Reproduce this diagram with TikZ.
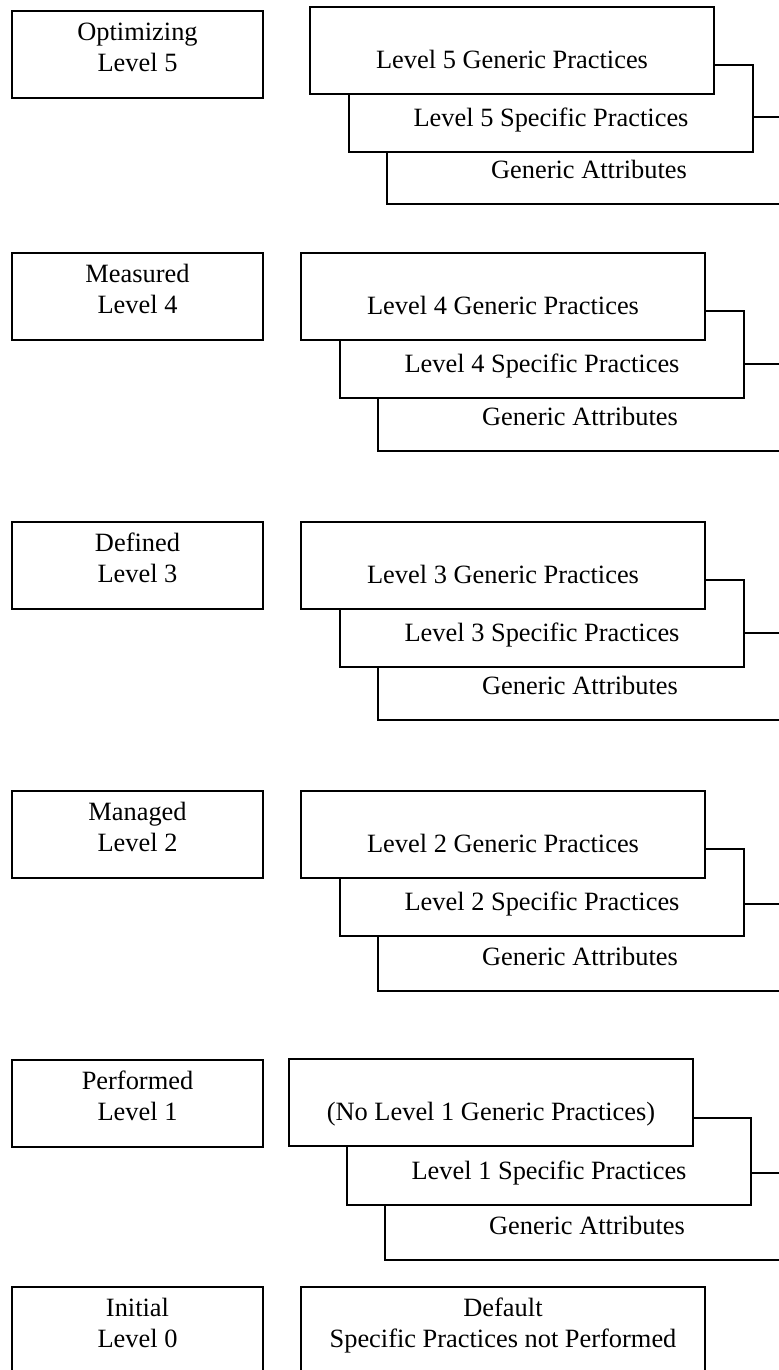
\documentclass[tikz,border=0pt]{standalone}
\usepackage{fontspec}
\setmainfont{Liberation Serif}
\usepackage{tikz}
\usetikzlibrary{positioning}

\begin{document}
\begin{tikzpicture}[
    x=0.5pt, y=-0.5pt,
    lvlbox/.style={rectangle, draw, line width=1pt, anchor=north west, outer sep=0pt,
                   minimum width=125.5pt, minimum height=43.5pt, inner sep=0pt,
                   align=center, text depth=7.4pt, font=\fontsize{13.2}{15.5}\selectfont},
    card/.style={rectangle, draw, line width=1pt, fill=white, anchor=north west, outer sep=0pt,
                 minimum width=202pt, minimum height=43.5pt, inner sep=0pt,
                 text height=18.2pt, text depth=0pt, font=\fontsize{13.2}{15.5}\selectfont},
  ]
  \useasboundingbox (0,0) rectangle (779,1370);
  \clip (0,0) rectangle (779,1370);

  % Level 5
  \node[lvlbox] (lvl5) at (12,11) {Optimizing\\Level 5};
  \node[card] (ga5) at (387,117) {Generic Attributes};
  \node[card] (sp5) at (349,65) {Level 5 Specific Practices};
  \node[card] (gp5) at (310,7) {Level 5 Generic Practices};

  % Level 4
  \node[lvlbox] (lvl4) at (12,253) {Measured\\Level 4};
  \node[card] (ga4) at (378,364) {Generic Attributes};
  \node[card] (sp4) at (340,311) {Level 4 Specific Practices};
  \node[card] (gp4) at (301,253) {Level 4 Generic Practices};

  % Level 3
  \node[lvlbox] (lvl3) at (12,522) {Defined\\Level 3};
  \node[card] (ga3) at (378,633) {Generic Attributes};
  \node[card] (sp3) at (340,580) {Level 3 Specific Practices};
  \node[card] (gp3) at (301,522) {Level 3 Generic Practices};

  % Level 2
  \node[lvlbox] (lvl2) at (12,791) {Managed\\Level 2};
  \node[card] (ga2) at (378,904) {Generic Attributes};
  \node[card] (sp2) at (340,849) {Level 2 Specific Practices};
  \node[card] (gp2) at (301,791) {Level 2 Generic Practices};

  % Level 1
  \node[lvlbox] (lvl1) at (12,1060) {Performed\\Level 1};
  \node[card] (ga1) at (385,1173) {Generic Attributes};
  \node[card] (sp1) at (347,1118) {Level 1 Specific Practices};
  \node[card] (gp1) at (289,1059) {(No Level 1 Generic Practices)};

  % Level 0
  \node[lvlbox] (lvl0) at (12,1287) {Initial\\Level 0};
  \node[lvlbox, minimum width=202pt] (dflt) at (301,1287) {Default\\Specific Practices not Performed};
\end{tikzpicture}
\end{document}
